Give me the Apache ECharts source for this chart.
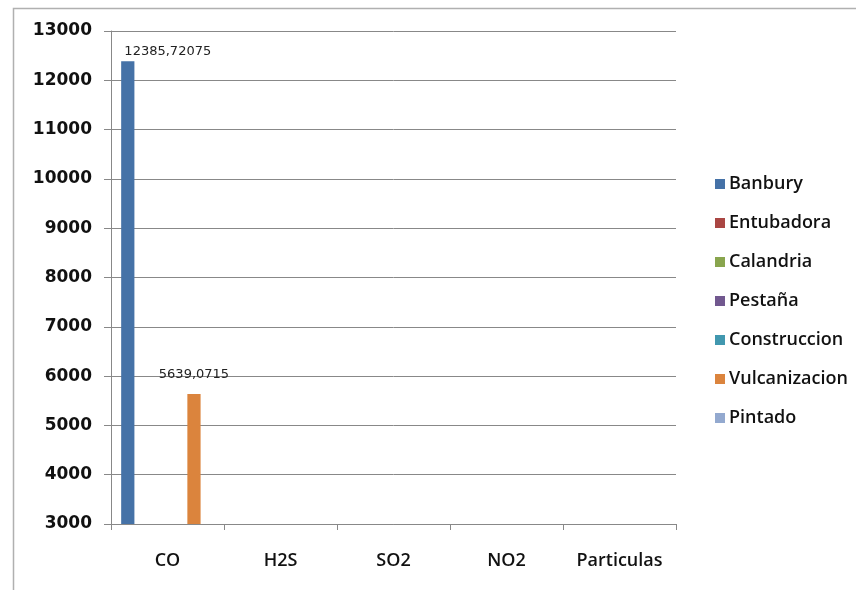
<!DOCTYPE html>
<html><head><meta charset="utf-8">
<script src="https://cdn.jsdelivr.net/npm/echarts@6/dist/echarts.min.js"></script>
<style>html,body{margin:0;padding:0;background:#fff}#c{width:856px;height:590px}</style>
</head><body><div id="c"></div>
<script>
var categories = ['CO', 'H2S', 'SO2', 'NO2', 'Particulas'];
var seriesNames = ['Banbury', 'Entubadora', 'Calandria', 'Pestaña', 'Construccion', 'Vulcanizacion', 'Pintado'];
// values below the 3000 axis floor are not visible in the reference
var banbury = [12385.72075, null, null, null, null];
var entubadora = [null, null, null, null, null];
var calandria = [null, null, null, null, null];
var pestana = [null, null, null, null, null];
var construccion = [null, null, null, null, null];
var vulcanizacion = [5639.0715, null, null, null, null];
var pintado = [null, null, null, null, null];
var yMin = 3000, yMax = 13000, yStep = 1000;

var allData = [banbury, entubadora, calandria, pestana, construccion, vulcanizacion, pintado];
var colors = ['#4572A7', '#AA4643', '#89A54E', '#71588F', '#4198AF', '#DB843D', '#93A9CF'];
var labelOffsets = {0: [40, 0], 5: [0, -10]};

function fmt(v) { return String(v).replace('.', ','); }

var series = seriesNames.map(function (name, i) {
  return {
    name: name,
    type: 'bar',
    barGap: '0%',
    barCategoryGap: '18%',
    itemStyle: { color: colors[i] },
    data: allData[i].map(function (v) {
      if (v === null) return null;
      return {
        value: v,
        label: {
          show: true, position: 'top', distance: 3,
          offset: labelOffsets[i] || [0, 0],
          formatter: function (p) { return fmt(p.value); },
          fontFamily: 'DejaVu Sans', fontSize: 13, color: '#222'
        }
      };
    })
  };
});

var chart = echarts.init(document.getElementById('c'), null, { renderer: 'canvas' });
chart.setOption({
  animation: false,
  backgroundColor: '#fff',
  graphic: [{
    type: 'rect', left: 11, top: 6, z: -1,
    shape: { width: 900, height: 700 },
    style: { fill: 'none', stroke: '#b0b0b0', lineWidth: 1.5 }
  }],
  grid: { left: 111, right: 180, top: 31, bottom: 66, containLabel: false },
  legend: {
    orient: 'vertical', left: 710, top: 170,
    itemWidth: 10, itemHeight: 10, itemGap: 21, icon: 'rect',
    textStyle: { fontFamily: 'Open Sans', fontWeight: 600, fontSize: 18, color: '#111', padding: [0, 0, 0, -1] },
    data: seriesNames
  },
  xAxis: {
    type: 'category', data: categories,
    axisLine: { lineStyle: { color: '#888', width: 1 } },
    axisTick: { show: true, length: 6, lineStyle: { color: '#888' } },
    axisLabel: { fontFamily: 'Open Sans', fontWeight: 600, fontSize: 18, color: '#111', margin: 28 }
  },
  yAxis: {
    type: 'value', min: yMin, max: yMax, interval: yStep,
    axisLine: { show: true, lineStyle: { color: '#888', width: 1 } },
    axisTick: { show: true, length: 7, lineStyle: { color: '#888' } },
    splitLine: { lineStyle: { color: '#888', width: 1 } },
    axisLabel: { fontFamily: 'DejaVu Sans', fontWeight: 'bold', fontSize: 17, color: '#111', margin: 19,
      formatter: function (v) { return String(v); } }
  },
  series: series
});
</script></body></html>
